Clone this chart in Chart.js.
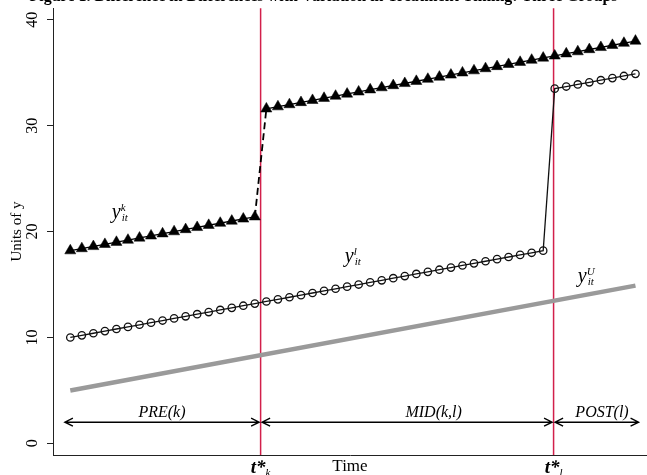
<!DOCTYPE html>
<html>
<head>
<meta charset="utf-8">
<script src="https://cdn.jsdelivr.net/npm/chart.js@4.4.1/dist/chart.umd.min.js"></script>
<style>
  html, body { margin: 0; padding: 0; background: #fff; overflow: hidden; }
  #wrap { width: 647px; height: 488px; margin-top: -13px; }
  canvas { display: block; }
</style>
</head>
<body>
<div id="wrap"><canvas id="chart" width="647" height="488"></canvas></div>
<script>
/* global Chart */

// Time periods
const periods = [
  1, 2, 3, 4, 5, 6, 7, 8, 9, 10, 11, 12, 13, 14, 15, 16, 17, 18, 19, 20,
  21, 22, 23, 24, 25, 26, 27, 28, 29, 30, 31, 32, 33, 34, 35, 36, 37, 38, 39, 40,
  41, 42, 43, 44, 45, 46, 47, 48, 49, 50
];

// Early treated group (k), treated after t*k
const groupK = [
  18.2, 18.4, 18.6, 18.8, 19.0, 19.2, 19.4, 19.6, 19.8, 20.0,
  20.2, 20.4, 20.6, 20.8, 21.0, 21.2, 21.4,
  31.6, 31.8, 32.0, 32.2, 32.4, 32.6, 32.8, 33.0, 33.2, 33.4,
  33.6, 33.8, 34.0, 34.2, 34.4, 34.6, 34.8, 35.0, 35.2, 35.4,
  35.6, 35.8, 36.0, 36.2, 36.4, 36.6, 36.8, 37.0, 37.2, 37.4,
  37.6, 37.8, 38.0
];

// Late treated group (l), treated after t*l
const groupL = [
  10.0, 10.2, 10.4, 10.6, 10.8, 11.0, 11.2, 11.4, 11.6, 11.8,
  12.0, 12.2, 12.4, 12.6, 12.8, 13.0, 13.2, 13.4, 13.6, 13.8,
  14.0, 14.2, 14.4, 14.6, 14.8, 15.0, 15.2, 15.4, 15.6, 15.8,
  16.0, 16.2, 16.4, 16.6, 16.8, 17.0, 17.2, 17.4, 17.6, 17.8,
  18.0, 18.2,
  33.5, 33.7, 33.9, 34.1, 34.3, 34.5, 34.7, 34.9
];

// Untreated group (U)
const groupUx = [1, 50];
const groupU = [5.0, 14.9];

// Treatment dates
const treatTimes = [17.5, 42.9];
const treatSubs = ['k', 'l'];

// Sub-periods shown with arrows
const periodNames = ['PRE(k)', 'MID(k,l)', 'POST(l)'];
const periodFrom = [0.4, 17.5, 42.9];
const periodTo = [17.5, 42.9, 50.4];
const periodLabelAt = [8.95, 32.5, 47.1];
const periodArrowY = 2.0;

// Axis ticks
const yTicks = [0, 10, 20, 30, 40];

// Series labels: superscript and anchor (x in periods, y in units)
const seriesSup = ['k', 'l', 'U'];
const seriesLabelX = [4.6, 24.8, 45.0];
const seriesLabelY = [21.3, 17.15, 15.25];

const SERIF = "'Liberation Serif', 'Times New Roman', serif";
Chart.defaults.font.family = SERIF;
Chart.defaults.color = '#000';

const toPoints = (xs, ys) => xs.map((x, i) => ({ x: x, y: ys[i] }));

/**
 * Draws a horizontal double-headed arrow
 */
function drawArrow(ctx, x1, x2, y) {
    ctx.beginPath();
    ctx.moveTo(x1, y);
    ctx.lineTo(x2, y);
    ctx.moveTo(x1 + 8, y - 4);
    ctx.lineTo(x1, y);
    ctx.lineTo(x1 + 8, y + 4);
    ctx.moveTo(x2 - 8, y - 4);
    ctx.lineTo(x2, y);
    ctx.lineTo(x2 - 8, y + 4);
    ctx.stroke();
}

// Red treatment lines, arrows and text marks
const overlay = {
    id: 'overlay',
    beforeDatasetsDraw(chart) {
        const { ctx, chartArea, scales: { x } } = chart;
        ctx.save();
        ctx.strokeStyle = '#d21f4b';
        ctx.lineWidth = 1.5;
        treatTimes.forEach(t => {
            const px = x.getPixelForValue(t);
            ctx.beginPath();
            ctx.moveTo(px, chartArea.top);
            ctx.lineTo(px, chartArea.bottom);
            ctx.stroke();
        });
        ctx.restore();
    },
    afterDraw(chart) {
        const { ctx, chartArea, scales: { x, y } } = chart;
        ctx.save();
        ctx.fillStyle = '#000';
        ctx.strokeStyle = '#000';
        ctx.lineWidth = 1.4;

        // Period arrows
        const ay = y.getPixelForValue(periodArrowY);
        periodNames.forEach((name, i) => {
            drawArrow(ctx, x.getPixelForValue(periodFrom[i]) + 1.5, x.getPixelForValue(periodTo[i]) - 1.5, ay);
            ctx.font = 'italic 16px ' + SERIF;
            ctx.textAlign = 'center';
            ctx.textBaseline = 'alphabetic';
            ctx.fillText(name, x.getPixelForValue(periodLabelAt[i]), ay - 5);
        });

        // Series labels y^g_it
        ctx.textAlign = 'left';
        seriesSup.forEach((sup, i) => {
            const px = x.getPixelForValue(seriesLabelX[i]);
            const py = y.getPixelForValue(seriesLabelY[i]);
            ctx.font = 'italic 20px ' + SERIF;
            ctx.fillText('y', px, py);
            const w = ctx.measureText('y').width;
            ctx.font = 'italic 11px ' + SERIF;
            ctx.fillText(sup, px + w, py - 7);
            ctx.fillText('it', px + w + 1, py + 3);
        });

        // t* labels under the axis
        treatTimes.forEach((t, i) => {
            const px = x.getPixelForValue(t);
            const by = chartArea.bottom + 18;
            ctx.font = 'bold italic 19px ' + SERIF;
            const w1 = ctx.measureText('t*').width;
            ctx.font = 'italic 11px ' + SERIF;
            const w2 = ctx.measureText(treatSubs[i]).width;
            const start = px - (w1 + w2) / 2;
            ctx.font = 'bold italic 19px ' + SERIF;
            ctx.fillText('t*', start, by);
            ctx.font = 'italic 11px ' + SERIF;
            ctx.fillText(treatSubs[i], start + w1, by + 3);
        });
        ctx.restore();
    }
};

const crossesTreat = ctx => ctx.p0.parsed.x < treatTimes[0] && ctx.p1.parsed.x > treatTimes[0];

new Chart(document.getElementById('chart'), {
    type: 'line',
    data: {
        datasets: [
            {
                label: 'U',
                data: toPoints(groupUx, groupU),
                borderColor: '#9a9a9a',
                borderWidth: 4.5,
                pointRadius: 0,
                tension: 0
            },
            {
                label: 'l',
                data: toPoints(periods, groupL),
                borderColor: '#111',
                borderWidth: 1.3,
                pointStyle: 'circle',
                pointRadius: 3.7,
                pointBorderWidth: 1.3,
                pointBorderColor: '#111',
                pointBackgroundColor: 'rgba(0,0,0,0)',
                tension: 0
            },
            {
                label: 'k',
                data: toPoints(periods, groupK),
                borderColor: '#000',
                borderWidth: 1.3,
                segment: {
                    borderDash: ctx => crossesTreat(ctx) ? [7, 4] : undefined,
                    borderWidth: ctx => crossesTreat(ctx) ? 1.8 : undefined
                },
                pointStyle: 'triangle',
                pointRadius: 6.4,
                pointBorderWidth: 0.5,
                pointBorderColor: '#000',
                pointBackgroundColor: '#000',
                tension: 0
            }
        ]
    },
    options: {
        responsive: false,
        animation: false,
        layout: { padding: 0, autoPadding: false },
        plugins: {
            legend: { display: false },
            tooltip: { enabled: false },
            title: {
                display: true,
                text: 'Figure 1. Difference in Differences with Variation in Treatment Timing: Three Groups',
                font: { size: 16, weight: 'bold' },
                padding: { top: 0, bottom: 2 },
                color: '#000'
            }
        },
        scales: {
            x: {
                type: 'linear',
                min: -0.5,
                max: 51,
                afterFit: scale => { scale.height = 20; },
                grid: { display: false },
                border: { display: true, color: '#222', width: 1 },
                ticks: { display: false },
                title: {
                    display: true,
                    text: 'Time',
                    font: { size: 17, lineHeight: 1 },
                    padding: 0
                }
            },
            y: {
                min: -1.1,
                max: 41.1,
                afterFit: scale => { scale.width = 53; },
                afterBuildTicks: scale => { scale.ticks = yTicks.map(v => ({ value: v })); },
                grid: { drawOnChartArea: false, drawTicks: true, tickLength: 6, color: '#222' },
                border: { display: true, color: '#222', width: 1 },
                ticks: {
                    minRotation: 90,
                    maxRotation: 90,
                    crossAlign: 'center',
                    padding: 6,
                    font: { size: 16 },
                    color: '#000'
                },
                title: {
                    display: true,
                    text: 'Units of y',
                    font: { size: 15 },
                    padding: { top: 8, bottom: 0 }
                }
            }
        }
    },
    plugins: [overlay]
});
</script>
</body>
</html>
